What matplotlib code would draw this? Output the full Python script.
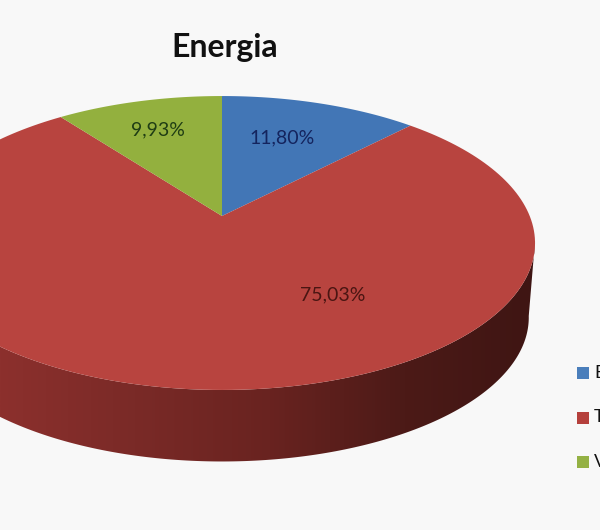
import numpy as np
import matplotlib
# headless sandbox
matplotlib.use("Agg")
import matplotlib.pyplot as plt
from matplotlib.colors import LinearSegmentedColormap
from matplotlib.patches import Polygon

title = "Energia"
values = [11.80, 75.03, 9.93]
legend_letters = ["B", "T", "V"]  # the legend is cut off by the image edge

top_colors = ["#4276b6", "#b8443f", "#93b03e"]
legend_colors = ["#4a7ebb", "#b5403c", "#94b144"]
label_colors = ["#14245e", "#4a1512", "#1f3d14"]
label_pos = [(282, 138), (333, 295), (158, 130)]
side_colors = ["#8c302d", "#7a2a27", "#692320", "#4c1a17", "#3e1513"]

# projection of the tilted disc, in pixels
cx, cy = 222, 216
rx, ry = 307.7, 142
persp = 0.1837
depth = 75
low_scale = 0.98


def project(theta, drop=0.0, scale=1.0):
    # theta is clockwise from the top of the pie, in radians
    u, v = np.sin(theta), np.cos(theta)
    den = 1 + persp * v
    return cx + scale * rx * u / den, cy + drop - scale * ry * v / den


fig = plt.figure(figsize=(6, 5.3), dpi=100, facecolor="#f8f8f8")
ax = fig.add_axes([0, 0, 1, 1])
ax.set_xlim(0, 600)
ax.set_ylim(530, 0)
ax.axis("off")

# side wall with horizontal gradient
a = np.radians(np.linspace(100, 262, 200))
tx, ty = project(a)
lx, ly = project(a[::-1], depth, low_scale)
wall = Polygon(np.column_stack([np.r_[tx, lx], np.r_[ty, ly]]), closed=True,
               transform=ax.transData, fc="none", ec="none")
ax.add_patch(wall)
cmap = LinearSegmentedColormap.from_list("wall", side_colors)
img = ax.imshow(np.linspace(0, 1, 256).reshape(1, -1), cmap=cmap,
                extent=(0, 540, 530, 0), aspect="auto", zorder=1)
img.set_clip_path(wall)
ax.set_xlim(0, 600)
ax.set_ylim(530, 0)

# top face wedges
fracs = np.array(values) / sum(values)
starts = np.r_[0, np.cumsum(fracs)[:-1]] * 2 * np.pi
ends = np.cumsum(fracs) * 2 * np.pi
# the blue wedge runs clockwise from 12 o'clock, green ends there
starts[2], ends[2] = 2 * np.pi - fracs[2] * 2 * np.pi, 2 * np.pi
ends[1] = starts[2]
for s, e, col in zip(starts, ends, top_colors):
    t = np.linspace(s, e, 200)
    x, y = project(t)
    pts = np.column_stack([np.r_[cx, x], np.r_[cy, y]])
    ax.add_patch(Polygon(pts, closed=True, fc=col, ec="none", zorder=2))

for val, pos, col in zip(values, label_pos, label_colors):
    txt = f"{val:.2f}%".replace(".", ",")
    ax.text(pos[0], pos[1], txt, color=col, fontsize=14, family="Lato",
            ha="center", va="center", zorder=3)

ax.text(225, 47, title, fontsize=23, family="Lato", fontweight="bold",
        color="#111111", ha="center", va="center")

# legend, clipped by the right edge
for i, (letter, col) in enumerate(zip(legend_letters, legend_colors)):
    y = 373 + i * 44.5
    ax.add_patch(plt.Rectangle((577, y - 6), 12, 12, fc=col, ec="none"))
    ax.text(594, y, letter, fontsize=13, family="Lato", color="#111111",
            ha="left", va="center")

fig.savefig("out.png", dpi=100, facecolor=fig.get_facecolor())
